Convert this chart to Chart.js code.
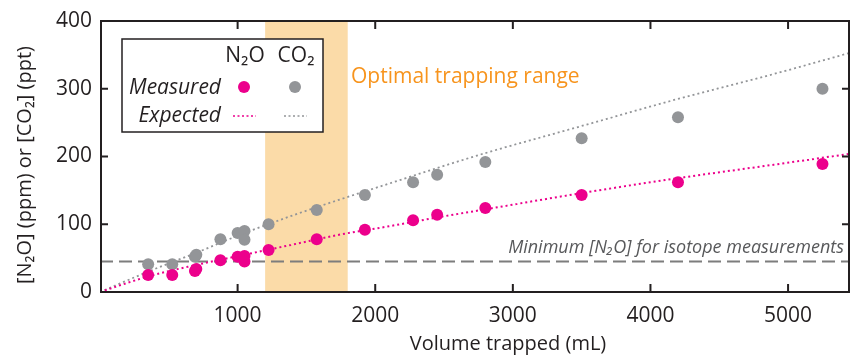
<!DOCTYPE html>
<html>
<head>
<meta charset="utf-8">
<script src="https://cdn.jsdelivr.net/npm/chart.js@4/dist/chart.umd.min.js"></script>
<style>
  html, body { margin: 0; padding: 0; background: #fff; }
</style>
</head>
<body>
<canvas id="trapChart" width="850" height="358"></canvas>
<script>
// measured concentrations vs. volume trapped (mL)
const volumes  = [350, 525, 690, 700, 875, 1000, 1050, 1050, 1225, 1575, 1925, 2275, 2450, 2800, 3500, 4200, 5250];
const n2oMeas  = [25, 25, 31, 34, 47, 52, 53, 45, 62, 78, 92, 106, 114, 124, 143, 162, 189];
const co2Meas  = [41, 41, 52, 55, 78, 87, 90, 77, 100, 121, 143, 162, 173, 192, 227, 258, 300];

// expected curves
const expVol   = [0, 350, 700, 1050, 1400, 1750, 2100, 2450, 2800, 3500, 4200, 4900, 5450];
const n2oExp   = [0, 23, 40, 55, 70, 85, 97, 110, 122, 146, 168, 188, 204];
const co2Exp   = [0, 30, 58, 87, 113, 137, 160, 183, 205, 245, 285, 322, 353];

const bandRange = [1200, 1800];   // optimal trapping range
const minN2O    = 45;             // minimum N2O for isotope measurements
const xTicks    = [1000, 2000, 3000, 4000, 5000];
const yTicks    = [0, 100, 200, 300, 400];

const PINK = '#EC008C', GREY = '#939598', INK = '#231F20', FONT = '"Open Sans", sans-serif';

const pts = (xs, ys) => xs.map((x, i) => ({ x, y: ys[i] }));

// fixed axis boxes, no extra label padding
const noPad = s => { s.paddingLeft = s.paddingRight = s.paddingTop = s.paddingBottom = 0; };

const decor = {
  id: 'decor',
  beforeDatasetsDraw(chart) {
    const { ctx, chartArea: a, scales: { x, y } } = chart;
    ctx.save();
    // orange band
    ctx.fillStyle = '#FBDBA8';
    const b0 = x.getPixelForValue(bandRange[0]), b1 = x.getPixelForValue(bandRange[1]);
    ctx.fillRect(b0, a.top, b1 - b0, a.bottom - a.top);
    // threshold line
    const ty = y.getPixelForValue(minN2O);
    ctx.strokeStyle = '#7D7D7D';
    ctx.lineWidth = 2;
    ctx.setLineDash([13, 6]);
    ctx.beginPath(); ctx.moveTo(a.left, ty); ctx.lineTo(a.right, ty); ctx.stroke();
    ctx.setLineDash([]);
    // annotations
    ctx.fillStyle = '#F7941D';
    ctx.font = '21px ' + FONT;
    ctx.textAlign = 'left'; ctx.textBaseline = 'alphabetic';
    ctx.fillText('Optimal trapping range', 351, 83);
    ctx.fillStyle = '#58595B';
    ctx.font = 'italic 18px ' + FONT;
    ctx.textAlign = 'right';
    ctx.fillText('Minimum [N\u2082O] for isotope measurements', 844, 253);
    ctx.restore();
  },
  afterDraw(chart) {
    const { ctx, chartArea: a, scales: { x, y } } = chart;
    ctx.save();
    // frame + inward ticks
    ctx.strokeStyle = INK;
    ctx.lineWidth = 2;
    ctx.strokeRect(a.left + 1, a.top, a.right - a.left - 2, a.bottom - a.top);
    ctx.beginPath();
    xTicks.forEach(v => {
      const px = x.getPixelForValue(v);
      ctx.moveTo(px, a.bottom); ctx.lineTo(px, a.bottom - 8);
      ctx.moveTo(px, a.top); ctx.lineTo(px, a.top + 8);
    });
    yTicks.slice(1, -1).forEach(v => {
      const py = y.getPixelForValue(v);
      ctx.moveTo(a.left, py); ctx.lineTo(a.left + 8, py);
      ctx.moveTo(a.right, py); ctx.lineTo(a.right - 8, py);
    });
    ctx.stroke();

    // axis titles
    ctx.fillStyle = INK;
    ctx.font = '20px ' + FONT;
    ctx.textAlign = 'center'; ctx.textBaseline = 'alphabetic';
    ctx.fillText('Volume trapped (mL)', 508, 350);
    ctx.save();
    ctx.translate(31, 165);
    ctx.rotate(-Math.PI / 2);
    ctx.fillText('[N\u2082O] (ppm) or [CO\u2082] (ppt)', 0, 0);
    ctx.restore();

    // legend
    ctx.fillStyle = '#fff';
    ctx.fillRect(122, 39, 201, 93);
    ctx.lineWidth = 1.5;
    ctx.strokeStyle = INK;
    ctx.strokeRect(122, 39, 201, 93);
    ctx.fillStyle = INK;
    ctx.font = '21px ' + FONT;
    ctx.textAlign = 'center';
    ctx.fillText('N\u2082O', 245, 62);
    ctx.fillText('CO\u2082', 296, 62);
    ctx.font = 'italic 21px ' + FONT;
    ctx.textAlign = 'right';
    ctx.fillText('Measured', 221, 94);
    ctx.fillText('Expected', 221, 122);
    [[244, PINK], [295, GREY]].forEach(([cx, c]) => {
      ctx.fillStyle = c;
      ctx.beginPath(); ctx.arc(cx, 87, 6, 0, Math.PI * 2); ctx.fill();
      ctx.strokeStyle = c;
      ctx.lineWidth = 1.5;
      ctx.setLineDash([2, 2.5]);
      ctx.beginPath(); ctx.moveTo(cx - 11, 116); ctx.lineTo(cx + 12, 116); ctx.stroke();
      ctx.setLineDash([]);
    });
    ctx.restore();
  }
};

new Chart(document.getElementById('trapChart'), {
  type: 'scatter',
  data: {
    datasets: [
      { label: 'N\u2082O measured', data: pts(volumes, n2oMeas), backgroundColor: PINK,
        pointRadius: 6, pointBorderWidth: 0 },
      { label: 'CO\u2082 measured', data: pts(volumes, co2Meas), backgroundColor: GREY,
        pointRadius: 6, pointBorderWidth: 0 },
      { label: 'N\u2082O expected', data: pts(expVol, n2oExp), showLine: true, borderColor: PINK,
        borderWidth: 2, borderDash: [2, 3], pointRadius: 0, cubicInterpolationMode: 'monotone' },
      { label: 'CO\u2082 expected', data: pts(expVol, co2Exp), showLine: true, borderColor: GREY,
        borderWidth: 1.8, borderDash: [2, 3], pointRadius: 0, cubicInterpolationMode: 'monotone' }
    ]
  },
  options: {
    responsive: false,
    animation: false,
    devicePixelRatio: 1,
    layout: { autoPadding: false, padding: { top: 21, right: 0, left: 0, bottom: 0 } },
    plugins: { legend: { display: false }, tooltip: { enabled: false } },
    scales: {
      x: {
        type: 'linear', min: 0, max: 5450,
        grid: { display: false, drawTicks: false },
        border: { display: false },
        afterBuildTicks: s => { s.ticks = xTicks.map(v => ({ value: v })); },
        afterFit: s => { s.height = 66; noPad(s); },
        ticks: { color: INK, font: { family: FONT, size: 21 }, padding: 11, maxRotation: 0,
          callback: v => String(v) }
      },
      y: {
        type: 'linear', min: 0, max: 400,
        grid: { display: false, drawTicks: false },
        border: { display: false },
        afterBuildTicks: s => { s.ticks = yTicks.map(v => ({ value: v })); },
        afterFit: s => { s.width = 100; noPad(s); },
        ticks: { color: INK, font: { family: FONT, size: 21 }, padding: 8,
          callback: v => String(v) }
      }
    }
  },
  plugins: [decor]
});
</script>
</body>
</html>
